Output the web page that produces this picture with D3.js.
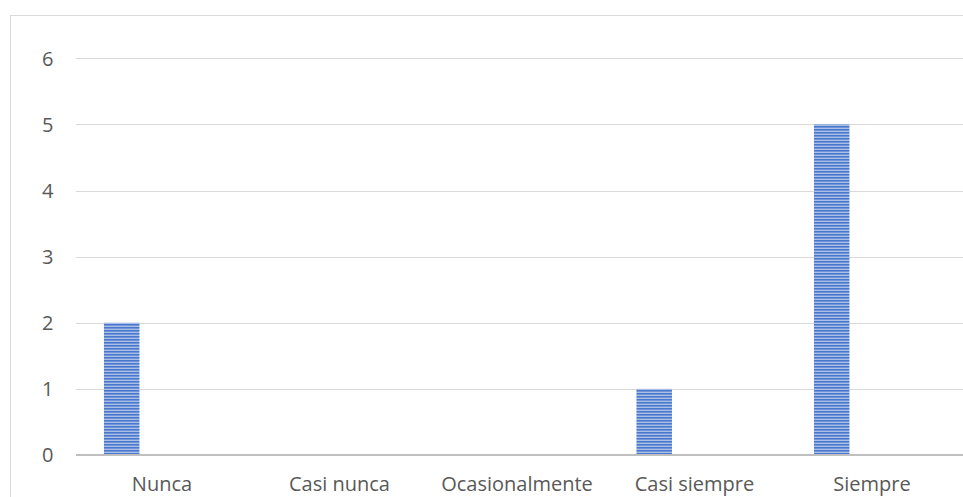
<!DOCTYPE html>
<html><head><meta charset="utf-8">
<script src="https://cdn.jsdelivr.net/npm/d3@7"></script>
<style>body{margin:0;background:#fff;}svg{display:block;}</style>
</head><body>
<script>
const categories = ["Nunca","Casi nunca","Ocasionalmente","Casi siempre","Siempre"];
const values = [2,0,0,1,5];
const yTicks = [0,1,2,3,4,5,6];

const W = 963, H = 497;
const svg = d3.select("body").append("svg").attr("width", W).attr("height", H);

const defs = svg.append("defs");
const pat = defs.append("pattern").attr("id","stripes").attr("patternUnits","userSpaceOnUse")
  .attr("width",4).attr("height",3);
pat.append("rect").attr("width",4).attr("height",3).attr("fill","#a9bfe8");
pat.append("rect").attr("y",0).attr("width",4).attr("height",1.6).attr("fill","#4a78cc");

const FONT = "'Open Sans', sans-serif";

// chart border
svg.append("rect").attr("x",10.5).attr("y",15.5).attr("width",W+20).attr("height",H+20)
  .attr("fill","none").attr("stroke","#d9d9d9").attr("stroke-width",1);

const x = d3.scaleBand().domain(categories).range([73.25, 960.75]).padding(0);
const y = d3.scaleLinear().domain([0,6]).range([455, 58.3]);

// gridlines
svg.append("g").selectAll("line").data(yTicks.filter(d=>d>0)).join("line")
  .attr("x1",76).attr("x2",W).attr("y1",d=>Math.round(y(d))+0.5).attr("y2",d=>Math.round(y(d))+0.5)
  .attr("stroke","#d9d9d9").attr("stroke-width",1);

// y tick labels
svg.append("g").selectAll("text").data(yTicks).join("text")
  .attr("x",53.5).attr("y",d=>y(d)).attr("dy","0.36em").attr("text-anchor","end")
  .attr("font-family",FONT).attr("font-size",20)
  .attr("fill","#595959").text(d=>d);

// bars
const bw = x.bandwidth();
svg.append("g").selectAll("rect").data(categories.map((c,i)=>({c,v:values[i]})).filter(d=>d.v>0)).join("rect")
  .attr("x",d=>x(d.c)+bw*0.173).attr("width",bw*0.2)
  .attr("y",d=>y(d.v)).attr("height",d=>y(0)-y(d.v))
  .attr("fill","url(#stripes)");

// x axis line
svg.append("line").attr("x1",76).attr("x2",W).attr("y1",455).attr("y2",455)
  .attr("stroke","#bfbfbf").attr("stroke-width",2.2);

// x labels
svg.append("g").selectAll("text").data(categories).join("text")
  .attr("x",d=>x(d)+bw/2).attr("y",491).attr("text-anchor","middle")
  .attr("font-family",FONT).attr("font-size",20)
  .attr("fill","#595959").text(d=>d);
</script>
</body></html>
